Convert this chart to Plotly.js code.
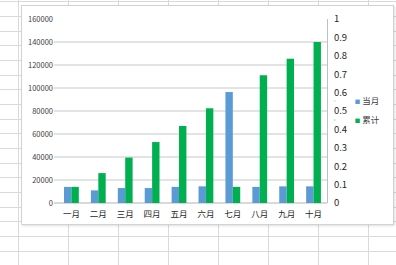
<!DOCTYPE html>
<html>
<head>
<meta charset="utf-8">
<script src="https://cdn.plot.ly/plotly-3.0.1.min.js"></script>
<style>
  html, body { margin:0; padding:0; width:396px; height:265px; overflow:hidden; background:#fff; }
  #sheet { position:absolute; left:0; top:0; width:396px; height:265px; }
  #frame { position:absolute; left:21px; top:5px; width:371px; height:218px; background:#fff;
           border:1px solid #d2d2d2; box-shadow:1px 1px 2px rgba(0,0,0,0.12); }
  #chart { position:absolute; left:0; top:0; width:396px; height:265px; }
</style>
</head>
<body>
<div id="sheet"></div>
<div id="frame"></div>
<div id="chart"></div>
<script>
// ---- data ----
const months = ['一月','二月','三月','四月','五月','六月','七月','八月','九月','十月'];
const monthly = [14000, 11000, 13000, 13000, 14000, 14500, 96500, 14000, 14500, 14500];
const cumulative = [14000, 26000, 39500, 53000, 67000, 82500, 14000, 111000, 125500, 140000];
const seriesNames = ['当月', '累计'];
const seriesColors = ['#5b9bd5', '#00b050'];
const leftTicks = [0, 20000, 40000, 60000, 80000, 100000, 120000, 140000, 160000];
const rightTicks = [0, 0.1, 0.2, 0.3, 0.4, 0.5, 0.6, 0.7, 0.8, 0.9, 1];

// ---- spreadsheet background grid ----
(function(){
  const sheet = document.getElementById('sheet');
  for (let y = 1.3; y < 265; y += 14.67) {
    const d = document.createElement('div');
    d.style.cssText = 'position:absolute;left:0;width:396px;height:1px;background:#d9d9d9;top:' + Math.round(y) + 'px';
    sheet.appendChild(d);
  }
  for (let x = 18; x < 396; x += 50) {
    const d = document.createElement('div');
    d.style.cssText = 'position:absolute;top:0;height:265px;width:1px;background:#d9d9d9;left:' + x + 'px';
    sheet.appendChild(d);
  }
})();

const font = '"Noto Sans CJK SC", "Liberation Sans", sans-serif';
const legendLabel = (i) => "<span style='color:" + seriesColors[i] + ";font-size:5.5px'>■</span> " + seriesNames[i];

const traces = [
  { type:'bar', x:months, y:monthly, name:seriesNames[0], marker:{color:seriesColors[0]}, showlegend:false },
  { type:'bar', x:months, y:cumulative, name:seriesNames[1], marker:{color:seriesColors[1]}, showlegend:false },
  // legend-only entries (compact square drawn in the label)
  { type:'scatter', mode:'markers', x:[months[0]], y:[null], name:legendLabel(0),
    marker:{symbol:'square', size:1, opacity:0, color:seriesColors[0]}, hoverinfo:'skip' },
  { type:'scatter', mode:'markers', x:[months[0]], y:[null], name:legendLabel(1),
    marker:{symbol:'square', size:1, opacity:0, color:seriesColors[1]}, hoverinfo:'skip' },
  { type:'scatter', x:[months[0]], y:[null], yaxis:'y2', showlegend:false, hoverinfo:'skip' }
];

const layout = {
  width:396, height:265,
  margin:{l:54, r:69, t:19, b:62, pad:0, autoexpand:false},
  paper_bgcolor:'rgba(0,0,0,0)',
  plot_bgcolor:'rgba(0,0,0,0)',
  barmode:'group', bargap:0.45, bargroupgap:0,
  font:{family:font, color:'#404040', size:8},
  showlegend:true,
  legend:{x:0.955, y:0.633, xanchor:'left', yanchor:'top', font:{size:8.5, color:'#404040'},
          itemwidth:30, tracegroupgap:0, bgcolor:'rgba(0,0,0,0)', traceorder:'normal'},
  xaxis:{ type:'category', showgrid:false, showline:false, zeroline:false, ticks:'', ticklabelstandoff:4,
          tickfont:{size:8.5, color:'#262626'}, fixedrange:true },
  yaxis:{ range:[0,160000], tickvals:leftTicks, tickformat:'d', showgrid:true, gridcolor:'#e3e3e3', gridwidth:1.5,
          zeroline:true, zerolinecolor:'#d9d9d9', zerolinewidth:1.2, showline:false, ticks:'',
          tickfont:{size:7.5, color:'#404040'}, fixedrange:true },
  yaxis2:{ overlaying:'y', side:'right', range:[0,1], tickvals:rightTicks, showgrid:false, zeroline:false,
           showline:true, linecolor:'#bfbfbf', linewidth:1, ticks:'', ticklabelstandoff:4,
           tickfont:{size:9.5, color:'#262626'}, fixedrange:true }
};

Plotly.newPlot('chart', traces, layout, {staticPlot:true, displayModeBar:false});
</script>
</body>
</html>
